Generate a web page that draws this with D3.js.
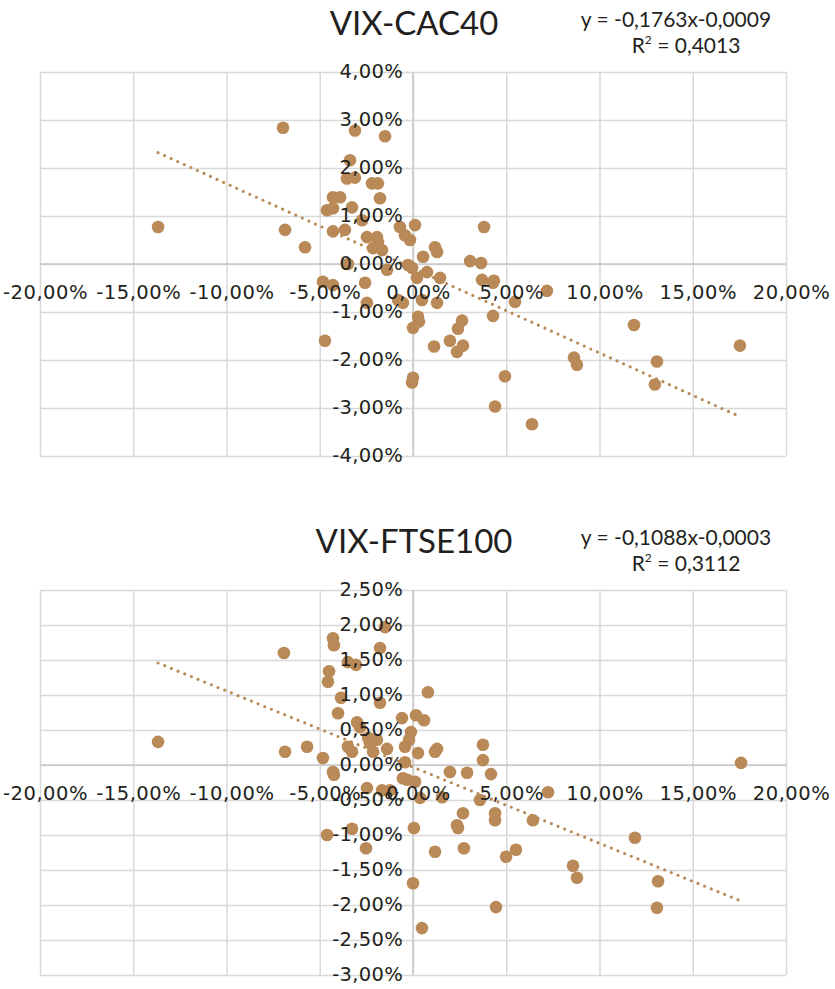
<!DOCTYPE html>
<html>
<head>
<meta charset="utf-8">
<script src="https://cdn.jsdelivr.net/npm/d3@7"></script>
<style>
  body { margin: 0; background: #fff; }
  svg { display: block; }
</style>
</head>
<body>
<div id="chart"></div>
<script>
// VIX daily change (x, %) vs index daily change (y, %)
const cacPoints = [
  [-13.67, 0.77], [-6.97, 2.84], [-6.86, 0.71], [-5.79, 0.35], [-4.83, -0.37], [-4.72, -1.60],
  [-4.29, -0.44], [-4.61, 1.12], [-4.29, 1.16], [-4.29, 1.39], [-3.91, 1.39], [-4.29, 0.68],
  [-3.65, 0.71], [-3.49, 0.00], [-3.11, 2.78], [-3.38, 2.16], [-3.54, 1.78], [-3.11, 1.80],
  [-3.27, 1.18], [-2.73, 0.91], [-2.47, 0.56], [-1.93, 0.56], [-1.88, 0.46], [-2.14, 0.33],
  [-1.66, 0.29], [-2.20, 1.68], [-1.88, 1.68], [-1.77, 1.37], [-1.50, 2.66], [-1.39, -0.12],
  [-2.57, -0.39], [-2.47, -0.81], [-0.80, -0.75], [-0.54, -0.81], [-0.70, 0.77], [-0.43, 0.60],
  [-0.16, 0.50], [0.11, 0.81], [-0.27, -0.02], [-0.05, -0.08], [0.21, -0.29], [0.48, -0.75],
  [0.27, -1.10], [0.32, -1.20], [0.00, -1.33], [0.00, -2.37], [-0.05, -2.47], [0.54, 0.15],
  [0.75, -0.17], [1.18, 0.35], [1.29, 0.25], [1.29, -0.81], [1.13, -1.72], [1.45, -0.29],
  [1.98, -1.60], [2.36, -1.83], [2.63, -1.18], [2.41, -1.35], [2.68, -1.70], [3.06, 0.06],
  [3.65, 0.02], [3.70, -0.33], [4.29, -0.39], [3.81, 0.77], [4.34, -0.35], [4.29, -1.08],
  [4.40, -2.97], [4.93, -2.34], [5.47, -0.79], [6.38, -3.34], [7.18, -0.56], [11.85, -1.27],
  [8.63, -1.95], [8.79, -2.10], [13.08, -2.03], [12.97, -2.51], [17.53, -1.70]
];

const ftsePoints = [
  [-13.67, 0.33], [-6.92, 1.60], [-6.86, 0.19], [-5.68, 0.26], [-4.83, 0.10], [-4.29, 1.81],
  [-4.24, 1.71], [-4.50, 1.34], [-4.56, 1.19], [-4.02, 0.74], [-4.29, -0.10], [-4.24, -0.14],
  [-3.86, 0.96], [-3.49, 1.47], [-3.06, 1.43], [-3.49, 0.26], [-3.27, 0.19], [-3.00, 0.61],
  [-2.84, 0.54], [-2.41, 0.39], [-1.93, 0.36], [-2.14, 0.19], [-1.77, 1.67], [-1.50, 1.97],
  [-1.77, 0.89], [-0.59, 0.67], [-0.11, 0.47], [-0.21, 0.36], [-0.43, 0.26], [-0.43, 0.04],
  [0.16, 0.71], [0.59, 0.64], [0.27, 0.17], [0.80, 1.04], [-2.47, -0.33], [1.18, 0.19],
  [1.29, 0.23], [1.98, -0.10], [2.90, -0.11], [3.75, 0.29], [3.75, 0.07], [4.18, -0.13],
  [-1.66, -0.36], [-1.23, -0.36], [-0.54, -0.19], [-0.32, -0.21], [0.11, -0.24], [0.38, -0.47],
  [1.56, -0.46], [3.59, -0.50], [2.68, -0.69], [2.36, -0.86], [2.41, -0.90], [4.40, -0.69],
  [4.40, -0.79], [6.43, -0.79], [7.24, -0.39], [-3.27, -0.91], [-4.61, -1.00], [-2.52, -1.19],
  [0.05, -0.90], [1.18, -1.24], [2.73, -1.19], [0.00, -1.69], [0.48, -2.33], [4.45, -2.03],
  [4.99, -1.31], [5.52, -1.21], [8.58, -1.44], [8.79, -1.61], [17.59, 0.03], [11.90, -1.04],
  [13.14, -1.66], [13.08, -2.04], [-2.30, 0.31], [-1.39, 0.23]
];

const xTicks = [-20, -15, -10, -5, 0, 5, 10, 15, 20];
const cacYTicks = [-4, -3, -2, -1, 0, 1, 2, 3, 4];
const ftseYTicks = [-3, -2.5, -2, -1.5, -1, -0.5, 0, 0.5, 1, 1.5, 2, 2.5];

// trendline coefficients as shown on the chart (fractions)
const cacFit = { slope: -0.1763, intercept: -0.0009, r2: '0,4013', eq: 'y = -0,1763x-0,0009' };
const ftseFit = { slope: -0.1088, intercept: -0.0003, r2: '0,3112', eq: 'y = -0,1088x-0,0003' };

const W = 835, H = 989;
const dotColor = '#b98a58';
const gridColor = '#d9d9d9';
const textColor = '#231f20';
const labelFont = '"DejaVu Sans", Verdana, sans-serif';

const fmt = v => v.toFixed(2).replace('.', ',') + '%';

const svg = d3.select('#chart').append('svg')
  .attr('width', W)
  .attr('height', H)
  .style('background', '#fff');

function drawChart(opts) {
  const { title, points, yTicks, fit, top, bottom, titleY } = opts;
  const left = 40, right = 786;

  const x = d3.scaleLinear().domain([-20, 20]).range([left, right]);
  const y = d3.scaleLinear().domain([d3.min(yTicks), d3.max(yTicks)]).range([bottom, top]);

  const g = svg.append('g');

  // title + equation
  g.append('text')
    .attr('x', 414).attr('y', titleY)
    .attr('text-anchor', 'middle')
    .style('font-family', 'Lato, sans-serif')
    .style('font-size', '33px')
    .style('font-weight', 400)
    .attr('fill', textColor)
    .text(title);

  g.append('text')
    .attr('x', 676).attr('y', titleY - 8)
    .attr('text-anchor', 'middle')
    .style('font-family', 'Lato, sans-serif')
    .style('font-size', '21px')
    .attr('fill', textColor)
    .text(fit.eq);

  const r2 = g.append('text')
    .attr('x', 686).attr('y', titleY + 18)
    .attr('text-anchor', 'middle')
    .style('font-family', 'Lato, sans-serif')
    .style('font-size', '21px')
    .attr('fill', textColor);
  r2.append('tspan').text('R');
  r2.append('tspan').style('font-size', '12px').attr('dy', -9).text('2');
  r2.append('tspan').attr('dy', 9).text(' = ' + fit.r2);

  // gridlines
  g.append('g')
    .attr('transform', `translate(0,${bottom})`)
    .call(d3.axisBottom(x).tickValues(xTicks).tickSize(-(bottom - top)).tickFormat(''))
    .call(s => s.select('.domain').remove())
    .call(s => s.selectAll('line').attr('stroke', gridColor).attr('stroke-width', 1.5));

  g.append('g')
    .attr('transform', `translate(${left},0)`)
    .call(d3.axisLeft(y).tickValues(yTicks).tickSize(-(right - left)).tickFormat(''))
    .call(s => s.select('.domain').remove())
    .call(s => s.selectAll('line').attr('stroke', gridColor).attr('stroke-width', 1.5));

  // zero axes
  g.append('line')
    .attr('x1', x(0)).attr('x2', x(0)).attr('y1', top).attr('y2', bottom)
    .attr('stroke', '#c8c8c8').attr('stroke-width', 1.5);
  g.append('line')
    .attr('x1', left).attr('x2', right).attr('y1', y(0)).attr('y2', y(0))
    .attr('stroke', '#c8c8c8').attr('stroke-width', 1.5);

  // points
  g.append('g')
    .selectAll('circle')
    .data(points)
    .join('circle')
    .attr('cx', d => x(d[0]))
    .attr('cy', d => y(d[1]))
    .attr('r', 6.3)
    .attr('fill', dotColor);

  // trend line (dotted), over the x range of the data
  const xs = d3.extent(points, d => d[0]);
  const trend = xs.map(v => [v, (fit.slope * v / 100 + fit.intercept) * 100]);
  g.append('path')
    .datum(trend)
    .attr('d', d3.line().x(d => x(d[0])).y(d => y(d[1])))
    .attr('fill', 'none')
    .attr('stroke', dotColor)
    .attr('stroke-width', 3.2)
    .attr('stroke-linecap', 'round')
    .attr('stroke-dasharray', '0 7.2');

  // axis labels
  g.append('g')
    .attr('transform', `translate(0,${y(0)})`)
    .call(d3.axisBottom(x).tickValues(xTicks).tickSize(0).tickFormat(fmt))
    .call(s => s.select('.domain').remove())
    .call(s => s.selectAll('text')
      .attr('dx', 5)
      .attr('y', 0)
      .attr('dy', 29)
      .attr('dominant-baseline', 'middle')
      .style('font-family', labelFont)
      .style('font-size', '19.5px')
      .style('letter-spacing', '0.5px')
      .attr('fill', textColor));

  g.append('g')
    .attr('transform', `translate(${x(0)},0)`)
    .call(d3.axisLeft(y).tickValues(yTicks).tickSize(0).tickPadding(10).tickFormat(fmt))
    .call(s => s.select('.domain').remove())
    .call(s => s.selectAll('text')
      .attr('dy', 0)
      .attr('dominant-baseline', 'middle')
      .style('font-family', labelFont)
      .style('font-size', '19.5px')
      .style('letter-spacing', '0.3px')
      .attr('fill', textColor));
}

drawChart({
  title: 'VIX-CAC40', points: cacPoints, yTicks: cacYTicks, fit: cacFit,
  top: 72, bottom: 456, titleY: 35
});

drawChart({
  title: 'VIX-FTSE100', points: ftsePoints, yTicks: ftseYTicks, fit: ftseFit,
  top: 590, bottom: 975, titleY: 553
});
</script>
</body>
</html>
